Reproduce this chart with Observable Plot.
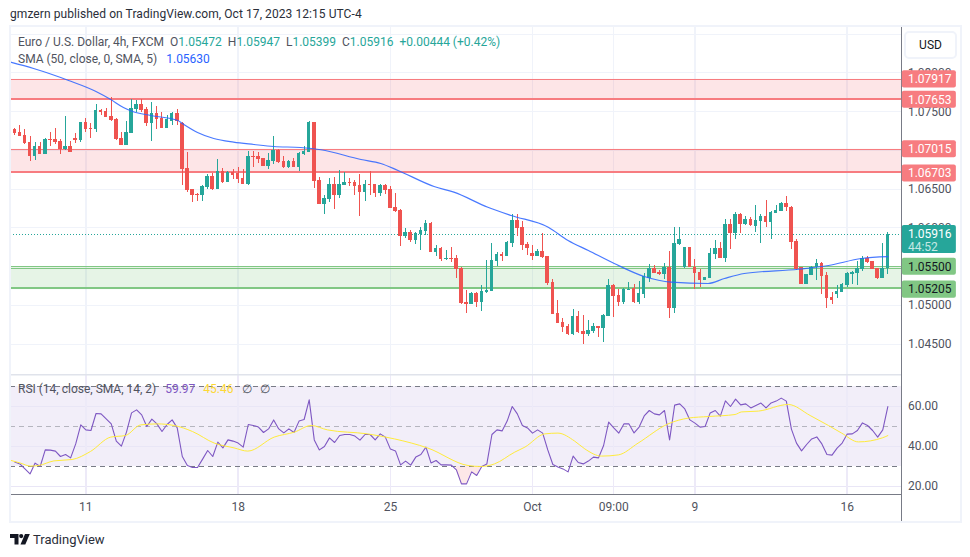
<!DOCTYPE html>
<html><head><meta charset="utf-8">
<script src="https://cdn.jsdelivr.net/npm/d3@7"></script>
<script src="https://cdn.jsdelivr.net/npm/@observablehq/plot@0.6"></script>
<style>
html,body{margin:0;padding:0;background:#fff;width:970px;height:557px;overflow:hidden}
body{font-family:Roboto,sans-serif;color:#131722}
#wrap{position:relative;width:970px;height:557px}
#frame{position:absolute;left:9px;top:25px;width:949px;height:494px;border:2px solid #f0f3fa;pointer-events:none}
#wrap svg.plot{position:absolute;left:0;background:transparent;overflow:visible}
.t{position:absolute;white-space:pre;font-size:12px;line-height:16px;color:#50535e}
#usd{position:absolute;left:904px;top:31px;width:49px;height:24px;border:2px solid #f0f3fa;border-radius:5px;font-size:12px;line-height:24px;text-align:center;color:#131722;background:#fff}
</style></head><body>
<div id="wrap">
<div class="t" style="left:10px;top:6px;color:#2a2e39;letter-spacing:.07px">gmzern published on TradingView.com, Oct 17, 2023 12:15 UTC-4</div>
<div id="frame"></div>
<div id="charts"></div>
<div class="t" style="left:18px;top:34px">Euro / U.S. Dollar, 4h, FXCM  O<span style="color:#26a69a">1.05472</span>  H<span style="color:#26a69a">1.05947</span>  L<span style="color:#26a69a">1.05399</span>  C<span style="color:#26a69a">1.05916</span>  <span style="color:#26a69a">+0.00444 (+0.42%)</span></div>
<div class="t" style="left:18px;top:51px">SMA (50, close, 0, SMA, 5)  <span style="color:#2962ff;margin-left:3px">1.05630</span></div>
<div class="t" style="left:18px;top:381px">RSI (14, close, SMA, 14, 2)  <span style="color:#7e57c2;margin-left:3px">59.97</span>  <span style="color:#fdd835;margin-left:2px">45.46</span>  <span style="margin-left:3px">∅</span>  <span style="margin-left:2px">∅</span></div>
<div id="usd">USD</div>
<svg style="position:absolute;left:10px;top:534px" width="20" height="11" viewBox="0 0 20 11"><path d="M0 0h8.5v10.5H4.5V4H0z" fill="#131722"/><circle cx="11.2" cy="2.1" r="2.1" fill="#131722"/><path d="M15 0h4.8l-4.5 10.5H10.5z" fill="#131722"/></svg>
<div class="t" style="left:33px;top:531px;font-size:13px;line-height:18px;color:#2a2e39">TradingView</div>
</div>
<script>
const opens=[1.07270,1.07232,1.07193,1.07103,1.06922,1.07051,1.06948,1.07141,1.07141,1.07116,1.07012,1.07051,1.07154,1.07129,1.07361,1.07283,1.07270,1.07516,1.07503,1.07438,1.07399,1.07154,1.07064,1.07219,1.07528,1.07593,1.07528,1.07348,1.07477,1.07412,1.07283,1.07374,1.07477,1.07348,1.06767,1.06496,1.06432,1.06419,1.06522,1.06664,1.06496,1.06729,1.06587,1.06716,1.06703,1.06638,1.06561,1.06922,1.06922,1.06896,1.06793,1.06858,1.07000,1.06858,1.06780,1.06858,1.06780,1.06948,1.06974,1.07361,1.06613,1.06303,1.06367,1.06561,1.06419,1.06548,1.06587,1.06587,1.06548,1.06458,1.06561,1.06561,1.06445,1.06548,1.06496,1.06264,1.06226,1.05890,1.05942,1.05839,1.05916,1.05955,1.06058,1.05684,1.05735,1.05593,1.05606,1.05606,1.05477,1.05039,1.05013,1.05155,1.05039,1.05168,1.05181,1.05568,1.05658,1.05632,1.05800,1.06097,1.06006,1.05787,1.05671,1.05632,1.05697,1.05632,1.05297,1.04897,1.04781,1.04729,1.04626,1.04858,1.04665,1.04626,1.04665,1.04729,1.04703,1.04858,1.05258,1.05129,1.05039,1.05194,1.05219,1.05039,1.05142,1.05348,1.05477,1.05426,1.05400,1.05490,1.04961,1.05787,1.05490,1.05748,1.05490,1.05426,1.05323,1.05348,1.05658,1.05735,1.05606,1.06045,1.05929,1.06174,1.06045,1.06109,1.06019,1.06084,1.06148,1.06071,1.06187,1.06213,1.06316,1.06264,1.05826,1.05490,1.05271,1.05387,1.05490,1.05542,1.05387,1.05103,1.05142,1.05168,1.05258,1.05400,1.05413,1.05464,1.05606,1.05568,1.05477,1.05348,1.05472];
const highs=[1.07283,1.07322,1.07270,1.07180,1.07103,1.07103,1.07154,1.07232,1.07283,1.07141,1.07438,1.07116,1.07219,1.07361,1.07412,1.07348,1.07593,1.07528,1.07541,1.07683,1.07412,1.07232,1.07374,1.07657,1.07645,1.07657,1.07554,1.07619,1.07567,1.07490,1.07451,1.07490,1.07528,1.07361,1.06974,1.06496,1.06445,1.06548,1.06690,1.06703,1.06883,1.06767,1.06729,1.06754,1.06780,1.06754,1.06987,1.06987,1.06974,1.06896,1.06961,1.07180,1.07012,1.06922,1.06871,1.06896,1.06974,1.07051,1.07374,1.07361,1.06651,1.06419,1.06638,1.06651,1.06742,1.06716,1.06638,1.06613,1.06690,1.06613,1.06729,1.06561,1.06561,1.06561,1.06535,1.06445,1.06238,1.05993,1.05968,1.05942,1.06006,1.06097,1.06071,1.05774,1.05748,1.05710,1.05748,1.05645,1.05490,1.05194,1.05168,1.05168,1.05258,1.05581,1.05800,1.05684,1.05684,1.05826,1.06174,1.06174,1.06084,1.05813,1.05774,1.05722,1.05929,1.05632,1.05335,1.05065,1.04832,1.04755,1.04948,1.04923,1.04871,1.04806,1.04768,1.04729,1.04884,1.05335,1.05271,1.05206,1.05219,1.05297,1.05271,1.05310,1.05413,1.05529,1.05516,1.05452,1.05542,1.05697,1.06006,1.06006,1.05748,1.05748,1.05593,1.05464,1.05361,1.05735,1.05839,1.05813,1.06109,1.06109,1.06200,1.06187,1.06148,1.06135,1.06290,1.06174,1.06355,1.06213,1.06290,1.06329,1.06406,1.06277,1.05851,1.05490,1.05400,1.05503,1.05593,1.05555,1.05426,1.05168,1.05258,1.05284,1.05426,1.05439,1.05568,1.05632,1.05632,1.05568,1.05477,1.05800,1.05947];
const lows=[1.07193,1.07180,1.07077,1.06858,1.06871,1.06948,1.06948,1.07051,1.07077,1.06948,1.07000,1.06974,1.07090,1.07103,1.07232,1.07154,1.07232,1.07451,1.07425,1.07374,1.07129,1.07064,1.07064,1.07219,1.07490,1.07490,1.07309,1.07116,1.07270,1.07283,1.07283,1.07322,1.07322,1.06548,1.06458,1.06329,1.06342,1.06342,1.06496,1.06484,1.06496,1.06574,1.06587,1.06625,1.06574,1.06561,1.06548,1.06780,1.06832,1.06793,1.06754,1.06819,1.06832,1.06767,1.06767,1.06780,1.06729,1.06935,1.06974,1.06509,1.06303,1.06174,1.06329,1.06238,1.06380,1.06548,1.06535,1.06419,1.06148,1.06342,1.06419,1.06393,1.06406,1.06432,1.06251,1.06200,1.05761,1.05864,1.05813,1.05787,1.05710,1.05903,1.05684,1.05632,1.05568,1.05581,1.05555,1.05348,1.05013,1.04897,1.05013,1.04974,1.04923,1.05155,1.05181,1.05503,1.05568,1.05632,1.05748,1.05890,1.05710,1.05645,1.05581,1.05632,1.05606,1.05258,1.04884,1.04768,1.04652,1.04613,1.04613,1.04639,1.04497,1.04600,1.04639,1.04587,1.04523,1.04858,1.04845,1.04987,1.05013,1.05194,1.05026,1.05013,1.05090,1.05297,1.05413,1.05387,1.05335,1.04832,1.04897,1.05774,1.05477,1.05490,1.05206,1.05232,1.05323,1.05348,1.05593,1.05606,1.05555,1.05722,1.05851,1.05929,1.06032,1.06019,1.05942,1.05800,1.06006,1.05851,1.06187,1.06213,1.06213,1.05722,1.05452,1.05271,1.05271,1.05387,1.05323,1.05142,1.04961,1.05013,1.05090,1.05168,1.05232,1.05271,1.05258,1.05439,1.05542,1.05464,1.05335,1.05348,1.05399];
const closes=[1.07219,1.07180,1.07090,1.06922,1.07051,1.06948,1.07141,1.07129,1.07103,1.07012,1.07051,1.06974,1.07129,1.07361,1.07270,1.07270,1.07516,1.07490,1.07425,1.07387,1.07141,1.07064,1.07232,1.07541,1.07593,1.07516,1.07348,1.07477,1.07399,1.07283,1.07399,1.07477,1.07374,1.06754,1.06484,1.06419,1.06419,1.06535,1.06664,1.06496,1.06729,1.06587,1.06716,1.06677,1.06625,1.06561,1.06922,1.06909,1.06883,1.06793,1.06871,1.07000,1.06845,1.06780,1.06858,1.06780,1.06961,1.06987,1.07361,1.06600,1.06303,1.06380,1.06561,1.06419,1.06561,1.06587,1.06574,1.06535,1.06458,1.06561,1.06548,1.06445,1.06548,1.06484,1.06251,1.06213,1.05890,1.05942,1.05839,1.05929,1.05968,1.06058,1.05684,1.05735,1.05593,1.05606,1.05593,1.05464,1.05026,1.05013,1.05155,1.05039,1.05181,1.05194,1.05581,1.05658,1.05632,1.05813,1.06097,1.05993,1.05774,1.05735,1.05632,1.05697,1.05619,1.05284,1.04884,1.04768,1.04716,1.04626,1.04858,1.04652,1.04626,1.04677,1.04729,1.04703,1.04871,1.05258,1.05116,1.05039,1.05206,1.05206,1.05039,1.05155,1.05374,1.05477,1.05413,1.05400,1.05490,1.04961,1.05800,1.05851,1.05748,1.05490,1.05413,1.05323,1.05361,1.05671,1.05735,1.05606,1.06045,1.05929,1.06174,1.06045,1.06109,1.06032,1.06097,1.06148,1.06071,1.06200,1.06226,1.06316,1.06264,1.05813,1.05464,1.05271,1.05400,1.05490,1.05542,1.05374,1.05090,1.05065,1.05181,1.05271,1.05413,1.05426,1.05477,1.05606,1.05555,1.05464,1.05348,1.05477,1.05916];
const smaBars=[-0.85,3.7,10.6,15.9,18.9,21.4,23.2,26.8,32.1,33,36,39.2,43.1,47.1,51,56.3,60.3,68.2,72.1,75.5,82.6,86.5,93.2,97.8,105.1,109,113,118.1,124,129.3,136.6,139.8,143.7,154.4,160.3,166.8,172];
const smaValues=[1.08139,1.08057,1.07903,1.07764,1.07657,1.07554,1.07503,1.07451,1.07387,1.07348,1.07232,1.07154,1.07107,1.07077,1.07051,1.07038,1.07009,1.06883,1.06832,1.06742,1.06535,1.06462,1.06268,1.06161,1.06010,1.05839,1.05710,1.05542,1.05374,1.05301,1.05284,1.05348,1.05413,1.05468,1.05516,1.05606,1.05630];
const rsiValues=[32.2,31.3,28.8,26.3,31.7,30,38.3,38.2,37.7,35,36,34.3,41.3,50.8,48.3,48,56.5,56.3,53.8,51.3,42.7,40.2,47.2,56.8,58.3,55.8,50,53.7,51.3,47.5,51,53.3,49.3,35,30.5,29.5,29.5,33.7,38,35,42.2,39.3,43.3,42.7,41.7,39.7,51,50.5,49.7,47,48.8,53.3,48.8,46.8,48.8,47,52.7,53.5,63.3,43.3,38.3,40,44.3,42,45.5,46,46,45.2,43.2,46,46,43.3,46.3,44.7,38.7,37.8,30.8,32.7,30.7,34.7,36,39.7,31.8,33,30.8,30.8,30.7,28.3,21.3,21.3,27.3,25.5,30,31.3,46,48.3,47.8,52.7,60,56.3,50.5,49.3,46.7,48.3,46.7,38.3,31,29.7,28.8,27.3,35.2,32,31.3,32.7,34.7,34.3,40.5,52.2,49.3,46.7,51.3,51.3,46.8,49.7,55.3,58,56.3,55.8,58,43.3,60.7,61.3,58.8,53.3,51.7,49.7,50,56.8,58,55.2,62.8,60,63.7,60.8,61.3,59.3,60.5,61.7,59.3,61.8,62.7,64.2,62.7,48.7,41.7,37.8,41,43.8,44.8,41.3,36,35.7,39.2,41.7,46.2,46.3,48,51.8,50.5,48,44.7,48.3,59.97];
const rsiSmaBars=[-0.7,1.1,3.1,4.7,7.7,11.3,14.9,18.9,21.8,24.8,28.1,31.4,35,39.3,43.2,45.9,51.1,55.1,58.4,61.6,69.5,74.8,81.4,89.3,91.9,94.5,98.5,100.5,104.4,107,110.3,112.3,115.6,118.9,122.8,128.7,132.7,136.7,141.9,143.2,146.5,152.4,156.7,160.3,162.9,166.2,170.9,172];
const rsiSmaValues=[33,31.7,30.2,30.5,32.8,33.5,37.5,44.7,45.5,50.8,51.3,50.5,47.5,41.7,39.3,37.7,44.7,47.2,50.5,48.3,46.3,43.8,39.2,30.5,30,31.3,37.2,39.7,46.3,46.7,42.7,38.8,35.2,35.8,41.7,51.3,54.2,55,56,57.3,57.7,61,55.5,50.5,46.7,42.3,44.3,45.46];
const priceGrid=[1.085,1.08,1.075,1.07,1.065,1.06,1.055,1.05,1.045];
const priceAxis=[1.08,1.075,1.065,1.06,1.05,1.045];
const rsiGrid=[20,40,60];
const timeBars=[14,44,74,102,118,134,164];
const timeLabels=["11","18","25","Oct","09:00","9","16"];
const redLevels=[1.07917,1.07653,1.07015,1.06703];
const greenLevels=[1.05500,1.05205];
const lastClose=1.05916;
const countdown="44:52";

const GREEN="#26a69a",RED="#ef5350",ZR="#f77c80",ZG="#81c784",GRID="#f0f3fa",AXIS="#787b86",TXT="#50535e";
const FONT='Roboto,sans-serif';
const XD=[-0.847,174.69];
const XBOX=[174.85,185.5], XTEXT=175.95;
const bars=opens.map((o,i)=>({i,o,h:highs[i],l:lows[i],c:closes[i],col:closes[i]>=o?GREEN:RED}));
const half=.0011;

const price=Plot.plot({
  width:970,height:374,marginLeft:10,marginRight:69,marginTop:27,marginBottom:0,
  style:{fontFamily:FONT,fontSize:"12px",background:"transparent"},
  x:{domain:XD,axis:null},
  y:{domain:[1.0411,1.08586],axis:null},
  marks:[
    Plot.ruleY(priceGrid,{stroke:GRID,strokeWidth:1,shapeRendering:"crispEdges"}),
    Plot.ruleX(timeBars,{stroke:GRID,strokeWidth:1.5,shapeRendering:"crispEdges"}),
    Plot.rect([[1.07653,1.07917],[1.06703,1.07015]],{x1:XD[0],x2:XD[1],y1:d=>d[0],y2:d=>d[1],fill:"#f23645",fillOpacity:.13}),
    Plot.rect([[1.05205,1.055]],{x1:XD[0],x2:XD[1],y1:d=>d[0],y2:d=>d[1],fill:"#4caf50",fillOpacity:.14}),
    Plot.ruleY([1.07917,1.07015],{x1:XD[0],x2:XD[1],stroke:ZR,strokeWidth:1,shapeRendering:"crispEdges"}),
    Plot.ruleY([1.07653,1.06703],{x1:XD[0],x2:XD[1],stroke:ZR,strokeWidth:2,dy:-1,shapeRendering:"crispEdges"}),
    Plot.ruleY([1.055,1.0548],{x1:XD[0],x2:XD[1],stroke:ZG,strokeWidth:1,shapeRendering:"crispEdges"}),
    Plot.ruleY([1.05205],{x1:XD[0],x2:XD[1],stroke:ZG,strokeWidth:2,dy:-2,shapeRendering:"crispEdges"}),
    Plot.ruleY([lastClose],{x1:XD[0],x2:XD[1],stroke:GREEN,strokeWidth:1,strokeDasharray:"1,2",shapeRendering:"crispEdges"}),
    Plot.ruleX(bars,{x:"i",y1:"l",y2:"h",stroke:"col",strokeWidth:1,shapeRendering:"crispEdges"}),
    Plot.rect(bars,{x1:d=>d.i-.35,x2:d=>d.i+.35,y1:d=>Math.min(d.o,d.c),y2:d=>Math.max(d.o,d.c),fill:"col",shapeRendering:"crispEdges"}),
    Plot.line(smaBars.map((b,k)=>[b,smaValues[k]]),{x:d=>d[0],y:d=>d[1],stroke:"#2962ff",strokeWidth:1.2,strokeOpacity:.85,curve:"monotone-x",clip:true}),
    Plot.ruleX([XD[1]],{stroke:AXIS,strokeWidth:1,shapeRendering:"crispEdges"}),
    Plot.text(priceAxis,{x:XTEXT,y:d=>d,text:d=>d.toFixed(5),textAnchor:"start",fill:TXT,fontSize:12}),
    Plot.rect(redLevels,{x1:XBOX[0],x2:XBOX[1],y1:d=>d-half,y2:d=>d+half,fill:ZR,rx:2}),
    Plot.rect(greenLevels,{x1:XBOX[0],x2:XBOX[1],y1:d=>d-half,y2:d=>d+half,fill:ZG,rx:2}),
    Plot.rect([lastClose],{x1:XBOX[0],x2:XBOX[1],y1:d=>d-.00245,y2:d=>d+.00116,fill:GREEN,rx:2}),
    Plot.text(redLevels,{x:XTEXT,y:d=>d,text:d=>d.toFixed(5),textAnchor:"start",fill:"#fff",fontSize:12}),
    Plot.text(greenLevels,{x:XTEXT,y:d=>d,text:d=>d.toFixed(5),textAnchor:"start",fill:"#131722",fontSize:12}),
    Plot.text([lastClose],{x:XTEXT,y:d=>d,text:d=>d.toFixed(5),textAnchor:"start",fill:"#fff",fontSize:12}),
    Plot.text([countdown],{x:XTEXT,y:lastClose-.00168,text:d=>d,textAnchor:"start",fill:"#c4e8e4",fontSize:12})
  ]
});
price.style.top="0px";

const pts=rsiValues.map((v,i)=>({i,v}));
const os=pts.filter(d=>d.i>=87&&d.i<=92);
const rsi=Plot.plot({
  width:970,height:147,marginLeft:10,marginRight:69,marginTop:0,marginBottom:27,
  style:{fontFamily:FONT,fontSize:"12px",background:"transparent"},
  x:{domain:XD,axis:null},
  y:{domain:[16,76],axis:null},
  marks:[
    Plot.rect([[30,70]],{x1:XD[0],x2:XD[1],y1:d=>d[0],y2:d=>d[1],fill:"#7e57c2",fillOpacity:.1}),
    Plot.ruleY(rsiGrid,{stroke:"#e9e6f6",strokeWidth:1,shapeRendering:"crispEdges"}),
    Plot.ruleX(timeBars,{y1:16,y2:76,stroke:"#edeaf8",strokeWidth:1.5,shapeRendering:"crispEdges"}),
    Plot.areaY(os,{x:"i",y1:30,y2:d=>Math.min(d.v,30),fill:"#f23645",fillOpacity:.12}),
    Plot.ruleY([70,30],{stroke:"#787b86",strokeWidth:1,strokeDasharray:"5,4",shapeRendering:"crispEdges"}),
    Plot.ruleY([50],{stroke:"#787b86",strokeOpacity:.5,strokeWidth:1,strokeDasharray:"5,4",shapeRendering:"crispEdges"}),
    Plot.line(pts,{x:"i",y:"v",stroke:"#7e57c2",strokeWidth:1.1}),
    Plot.line(rsiSmaBars.map((b,k)=>[b,rsiSmaValues[k]]),{x:d=>d[0],y:d=>d[1],stroke:"#ffeb3b",strokeWidth:1,curve:"monotone-x",clip:true}),
    Plot.ruleY([76],{stroke:"#e0e3eb",strokeWidth:2}),
    Plot.ruleY([16],{x1:XD[0],x2:XD[1],stroke:AXIS,strokeWidth:1,shapeRendering:"crispEdges"}),
    Plot.ruleX([XD[1]],{y1:2.5,y2:76,stroke:AXIS,strokeWidth:1,clip:false,shapeRendering:"crispEdges"}),
    Plot.text(rsiGrid,{x:XTEXT,y:d=>d,text:d=>d.toFixed(2),textAnchor:"start",fill:TXT,fontSize:12}),
    Plot.text(timeBars,{x:d=>d,y:9.7,text:(d,k)=>timeLabels[k],fill:TXT,fontSize:12,textAnchor:"middle"})
  ]
});
rsi.style.top="374px";
document.getElementById("charts").append(price,rsi);
</script>
</body></html>
